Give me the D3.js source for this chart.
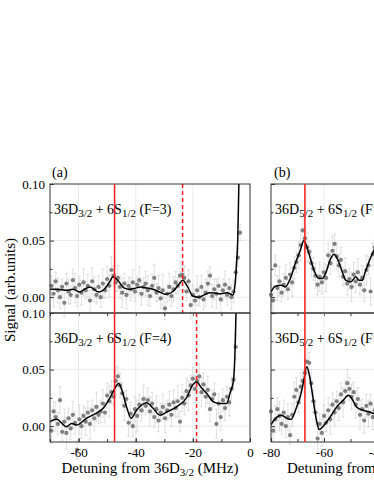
<!DOCTYPE html>
<html>
<head>
<meta charset="utf-8">
<script src="https://cdn.jsdelivr.net/npm/d3@7"></script>
<style>
body{margin:0;background:#fff;}
svg{display:block;font-family:"Liberation Serif","Times New Roman",serif;}
</style>
</head>
<body>
<svg id="chart"></svg>
<script>
// detuning grids (MHz) of the measured points
var detA = [-69.5,-68.75,-68,-67.25,-66.5,-65.75,-65,-64.25,-63.5,-62.75,
  -62,-61.25,-60.5,-59.75,-59,-58.25,-57.5,-56.75,-56,-55.25,
  -54.5,-53.75,-53,-52.25,-51.5,-50.75,-50,-49.25,-48.5,-47.75,
  -47,-46.25,-45.5,-44.75,-44,-43.25,-42.5,-41.75,-41,-40.25,
  -39.5,-38.75,-38,-37.25,-36.5,-35.75,-35,-34.25,-33.5,-32.75,
  -32,-31.25,-30.5,-29.75,-29,-28.25,-27.5,-26.75,-26,-25.25,
  -24.5,-23.75,-23,-22.25,-21.5,-20.75,-20,-19.25,-18.5,-17.75,
  -17,-16.25,-15.5,-14.75,-14,-13.25,-12.5,-11.75,-11,-10.25,
  -9.5,-8.75,-8,-7.25,-6.5,-5.75,-5,-4.25,-3.5]
var detB = [-80,-79.2,-78.4,-77.6,-76.8,-76,-75.2,-74.4,-73.6,-72.8,
  -72,-71.2,-70.4,-69.6,-68.8,-68,-67.2,-66.4,-65.6,-64.8,
  -64,-63.2,-62.4,-61.6,-60.8,-60,-59.2,-58.4,-57.6,-56.8,
  -56,-55.2,-54.4,-53.6,-52.8,-52,-51.2,-50.4,-49.6,-48.8,
  -48,-47.2,-46.4,-45.6,-44.8,-44,-43.2,-42.4,-41.6,-40.8,
  -40,-39.2]

// signals in units of 0.001 arb.units
var sigTopA = [10,3,14,6,0,9,-5,12,5,2,
  15,8,1,11,4,13,6,10,-3,14,
  7,2,9,0,12,6,16,10,24,19,
  13,17,9,4,12,2,10,7,13,5,
  11,15,3,9,12,6,1,10,17,4,
  8,-1,6,-10,3,9,1,7,13,10,
  19,20,17,5,14,-7,2,-3,6,0,
  9,-2,4,12,19,1,7,3,10,-2,
  6,11,2,8,0,5,22,35,57]
var errTopA = [9,12,8,11,10,7,12,9,11,8,
  10,13,9,7,11,12,8,10,9,12,
  11,8,10,9,13,7,11,10,12,9,
  8,11,10,13,9,12,8,10,11,9,
  7,12,10,8,11,13,9,10,12,8,
  11,9,14,10,8,12,9,11,10,7,
  13,9,11,8,10,12,9,11,13,8,
  10,9,12,11,8,10,9,13,7,11,
  10,12,9,8,11,10,9,8,7]
var sigBotA = [-4,13,8,2,23,-5,4,-6,7,-2,
  10,3,-21,6,0,9,4,12,2,14,
  7,17,10,13,20,12,27,22,30,26,
  40,44,36,29,18,24,3,11,0,15,
  9,19,14,24,18,23,13,20,8,15,
  5,12,17,7,14,19,10,21,16,22,
  4,25,20,31,27,36,42,33,40,44,
  30,37,26,32,15,24,28,2,20,8,
  23,16,26,21,33,41,70,null,null]
var errBotA = [11,9,13,10,12,8,11,14,9,10,
  12,10,8,13,11,9,12,10,14,9,
  11,13,8,10,12,9,11,14,10,8,
  12,9,11,10,13,8,12,10,9,11,
  14,9,10,12,8,11,13,10,9,12,
  10,8,11,13,9,12,10,11,8,14,
  9,12,10,11,13,9,10,12,8,11,
  13,10,9,12,11,8,10,13,9,12,
  10,11,9,12,10,9,11,10,9]
var sigTopB = [2,-3,28,8,14,4,11,17,7,20,
  13,26,31,37,46,59,52,44,40,30,
  25,19,11,18,13,22,17,37,30,41,
  47,36,28,33,18,23,12,16,9,20,
  14,22,11,17,6,24,28,5,38,44,
  49,53]
var errTopB = [10,12,9,11,13,8,10,12,9,11,
  13,10,9,12,14,11,10,13,9,12,
  10,11,9,13,10,8,12,11,10,13,
  9,12,10,11,8,12,10,9,13,11,
  10,12,9,11,10,13,8,12,10,11,
  9,12]
var sigBotB = [13,-4,6,15,9,2,12,0,8,-8,
  10,26,32,21,35,40,47,57,56,38,
  22,12,-11,2,-6,9,3,14,6,19,
  12,22,16,28,21,31,38,33,26,30,
  19,24,10,15,5,18,11,20,8,14,
  6,12]
var errBotB = [11,9,12,10,13,9,11,10,12,8,
  10,13,11,9,12,10,14,11,9,12,
  10,11,13,9,12,10,8,11,13,10,
  12,9,11,10,13,9,12,10,11,9,
  12,10,13,9,11,10,12,8,11,10,
  12,9]

// smoothed curves (0.001 arb.units)
var lineTopAx = [-70,-68,-66,-64,-62,-59.5,-58,-56,-53,-51,-49,-48,-46,-44,-42,-40,-38.5,-36,-34,-32,
  -29.5,-27,-25,-23.5,-22,-20,-18,-16,-14,-12,-10.5,-8,-6,-5.2,-4.7,-4.3,-3.9,-3.4]
var lineTopAy = [7,7,6.5,6,7,4.5,7,9,4.5,7,14,18,14,8,7,8,9,8,7,5,
  2.5,5,11,15,10,1,0,2,4,3.5,3,4,2,12,30,50,100,150]
var lineBotAx = [-70,-67.7,-64.2,-62.4,-60.7,-57.2,-53.7,-51.3,-49,-46.7,-46,-45,-43.2,-41.6,-39.7,-36.2,-34,-31.5,-29,-25.7,
  -22,-20.4,-18.7,-17,-15.2,-12.8,-10.5,-8.2,-7,-5.8,-5.3,-4.9,-4.4]
var lineBotAy = [4,6,-0.5,2.4,1,7,11.5,16,25,36,38,33,17,7,14,20.6,16,9.7,12.7,17,
  26,35,39,34,29,21.5,20,20,29,40,62,100,140]
var lineTopBx = [-80,-78.4,-76,-74.6,-72.7,-70.8,-68.9,-67.6,-65.7,-63.8,-61.9,-60.6,-59.4,-57.5,-56.2,-54.4,-53.1,-51.8,-49.9,-48,
  -46.8,-45.5,-44.6,-42.7,-41,-39]
var lineTopBy = [4.7,9.7,10.6,9,16.5,30,41.6,50,38.6,24,16.5,16.5,21,34,38,31,22.4,15,13.5,18,
  15,15,21,33,42,50]
var lineBotBx = [-80,-79.7,-77.8,-76,-74,-72.5,-70.3,-69,-67.8,-66.5,-65.5,-64.6,-62.8,-61.8,-60.3,-57.7,-55.2,-52.7,-50.8,-49.5,
  -47.7,-45.2,-43,-41,-39]
var lineBotBy = [1,2.4,8,9.7,6.8,6,17,26,38,52.5,45,32,5,-3,0,8,17,23,27.4,24.5,
  17,14,12.7,11,10]

// resonance markers (MHz)
var solidA = -47.4, dashTopA = -23.6, dashBotA = -18.7, solidB = -67.2

var xMajorA = [-60,-40,-20,0], xMinorA = [-70,-60,-50,-40,-30,-20,-10]
var xMajorB = [-80,-60,-40,-20], xMinorB = [-70,-60,-50,-40,-30,-20,-10]
var yMajor = [0,0.05,0.10], yMinor = [0.025,0.075]

var dims = {width:374, height:484}
var svg = d3.select("#chart").attr("width",dims.width).attr("height",dims.height)

var cols = {
  a:{left:50, right:250, domain:[-70,0], major:xMajorA, minor:xMinorA, state:"3/2"},
  b:{left:271, right:480, domain:[-80,-1.1], major:xMajorB, minor:xMinorB, state:"5/2"}
}
var rows = [{top:184,bottom:313,F:3},{top:313,bottom:442,F:4}]

var panels = [
  {col:"a",row:0,det:detA,sig:sigTopA,err:errTopA,lx:lineTopAx,ly:lineTopAy,dash:dashTopA},
  {col:"a",row:1,det:detA,sig:sigBotA,err:errBotA,lx:lineBotAx,ly:lineBotAy,dash:dashBotA},
  {col:"b",row:0,det:detB,sig:sigTopB,err:errTopB,lx:lineTopBx,ly:lineTopBy,dash:null},
  {col:"b",row:1,det:detB,sig:sigBotB,err:errBotB,lx:lineBotBx,ly:lineBotBy,dash:null}
]

var defs = svg.append("defs")

panels.forEach(function(p,i){
  var c = cols[p.col], r = rows[p.row]
  var xScale = d3.scaleLinear().domain(c.domain).range([c.left,c.right])
  var yScale = d3.scaleLinear().domain([-0.014,0.10]).range([r.bottom,r.top])
  var g = svg.append("g")

  defs.append("clipPath").attr("id","clip"+i)
      .append("rect").attr("x",c.left).attr("y",r.top)
      .attr("width",c.right-c.left).attr("height",r.bottom-r.top)

  // grid
  g.selectAll(".gx").data(c.major.filter(function(d){return d>c.domain[0] && d<c.domain[1]}))
   .enter().append("line")
   .attr("x1",d=>xScale(d)).attr("x2",d=>xScale(d))
   .attr("y1",r.top).attr("y2",r.bottom)
   .style("stroke","#e6e6e6").style("stroke-width",0.8)
  g.selectAll(".gy").data([0,0.05]).enter().append("line")
   .attr("x1",c.left).attr("x2",c.right)
   .attr("y1",d=>yScale(d)).attr("y2",d=>yScale(d))
   .style("stroke","#e6e6e6").style("stroke-width",0.8)

  var pts = p.det.map(function(d,k){return {x:d, y:p.sig[k], e:p.err[k]}})
                 .filter(function(d){return d.y!==null})

  // error bars
  var eb = g.append("g").style("stroke","#d2d2d2").style("stroke-width",0.7)
  pts.forEach(function(d){
    var x0 = xScale(d.x), y1 = yScale((d.y-d.e)/1000), y2 = yScale((d.y+d.e)/1000)
    eb.append("line").attr("x1",x0).attr("x2",x0).attr("y1",y1).attr("y2",y2)
    eb.append("line").attr("x1",x0-1.5).attr("x2",x0+1.5).attr("y1",y1).attr("y2",y1)
    eb.append("line").attr("x1",x0-1.5).attr("x2",x0+1.5).attr("y1",y2).attr("y2",y2)
  })

  // points
  g.selectAll("circle").data(pts).enter().append("circle")
   .attr("cx",d=>xScale(d.x)).attr("cy",d=>yScale(d.y/1000))
   .attr("r",2.1).style("fill","#808080")

  // smoothed fit
  var line = d3.line().x(d=>xScale(d[0])).y(d=>yScale(d[1]/1000)).curve(d3.curveMonotoneX)
  g.append("path").datum(p.lx.map(function(d,k){return [d,p.ly[k]]}))
   .attr("d",line).attr("clip-path","url(#clip"+i+")")
   .style("fill","none").style("stroke","#000").style("stroke-width",1.5)

  if(p.dash!==null){
    g.append("line").attr("x1",xScale(p.dash)).attr("x2",xScale(p.dash))
     .attr("y1",r.top).attr("y2",r.bottom)
     .style("stroke","#ff1a1a").style("stroke-width",1.5).style("stroke-dasharray","4,3")
  }

  // ticks
  var minorAx = d3.axisBottom(xScale).tickValues(c.minor).tickSize(p.row===1 ? -3 : 3).tickFormat("")
  g.append("g").attr("transform","translate(0,"+r.bottom+")").call(minorAx)
  var yMajAx = d3.axisLeft(yScale).tickValues(yMajor).tickSize(-4).tickPadding(5)
                 .tickFormat(p.col==="a" ? d3.format(".2f") : "")
  var ya = g.append("g").attr("transform","translate("+c.left+",0)").call(yMajAx)
  g.append("g").attr("transform","translate("+c.left+",0)")
   .call(d3.axisLeft(yScale).tickValues(yMinor).tickSize(-2.5).tickFormat(""))
  if(p.row===1){
    var xa = g.append("g").attr("transform","translate(0,"+r.bottom+")")
      .call(d3.axisBottom(xScale).tickValues(c.major).tickSize(-4).tickPadding(6).tickFormat(d=>String(d)))
    xa.selectAll("text").style("font-family","Liberation Serif").style("font-size","13px").style("fill","#000")
  }
  ya.selectAll("text").style("font-family","Liberation Serif").style("font-size","13px").style("fill","#000")
  g.selectAll(".domain").remove()
  g.selectAll(".tick line").style("stroke","#333")

  // frame
  g.append("rect").attr("x",c.left).attr("y",r.top)
   .attr("width",c.right-c.left).attr("height",r.bottom-r.top)
   .style("fill","none").style("stroke","#333").style("stroke-width",1)

  // label of the pair state
  var t = g.append("text").attr("x",c.left+4).attr("y",r.top+30).style("font-size","14px")
  t.append("tspan").text("36D")
  t.append("tspan").attr("dy",3).style("font-size","11px").text(c.state)
  t.append("tspan").attr("dy",-3).text(" + 6S")
  t.append("tspan").attr("dy",3).style("font-size","11px").text("1/2")
  t.append("tspan").attr("dy",-3).text(" (F=" + r.F + ")")
})

// solid red markers through both rows
var xa_ = d3.scaleLinear().domain(cols.a.domain).range([cols.a.left,cols.a.right])
var xb_ = d3.scaleLinear().domain(cols.b.domain).range([cols.b.left,cols.b.right])
svg.selectAll(".solid").data([xa_(solidA), xb_(solidB)]).enter().append("line")
   .attr("x1",d=>d).attr("x2",d=>d).attr("y1",184).attr("y2",442)
   .style("stroke","#ff1a1a").style("stroke-width",1.5)

// panel letters
svg.append("text").attr("x",52).attr("y",177).style("font-size","14px").text("(a)")
svg.append("text").attr("x",274).attr("y",177).style("font-size","14px").text("(b)")

// axis titles
Object.keys(cols).forEach(function(k){
  var c = cols[k]
  var t = svg.append("text").attr("x",(c.left+c.right)/2).attr("y",473)
    .attr("text-anchor","middle").style("font-size","15px")
  t.append("tspan").text("Detuning from 36D")
  t.append("tspan").attr("dy",3).style("font-size","11px").text(c.state)
  t.append("tspan").attr("dy",-3).text(" (MHz)")
})
svg.append("text").attr("transform","translate(15,290) rotate(-90)")
   .attr("text-anchor","middle").style("font-size","15px").text("Signal (arb.units)")
</script>
</body>
</html>
